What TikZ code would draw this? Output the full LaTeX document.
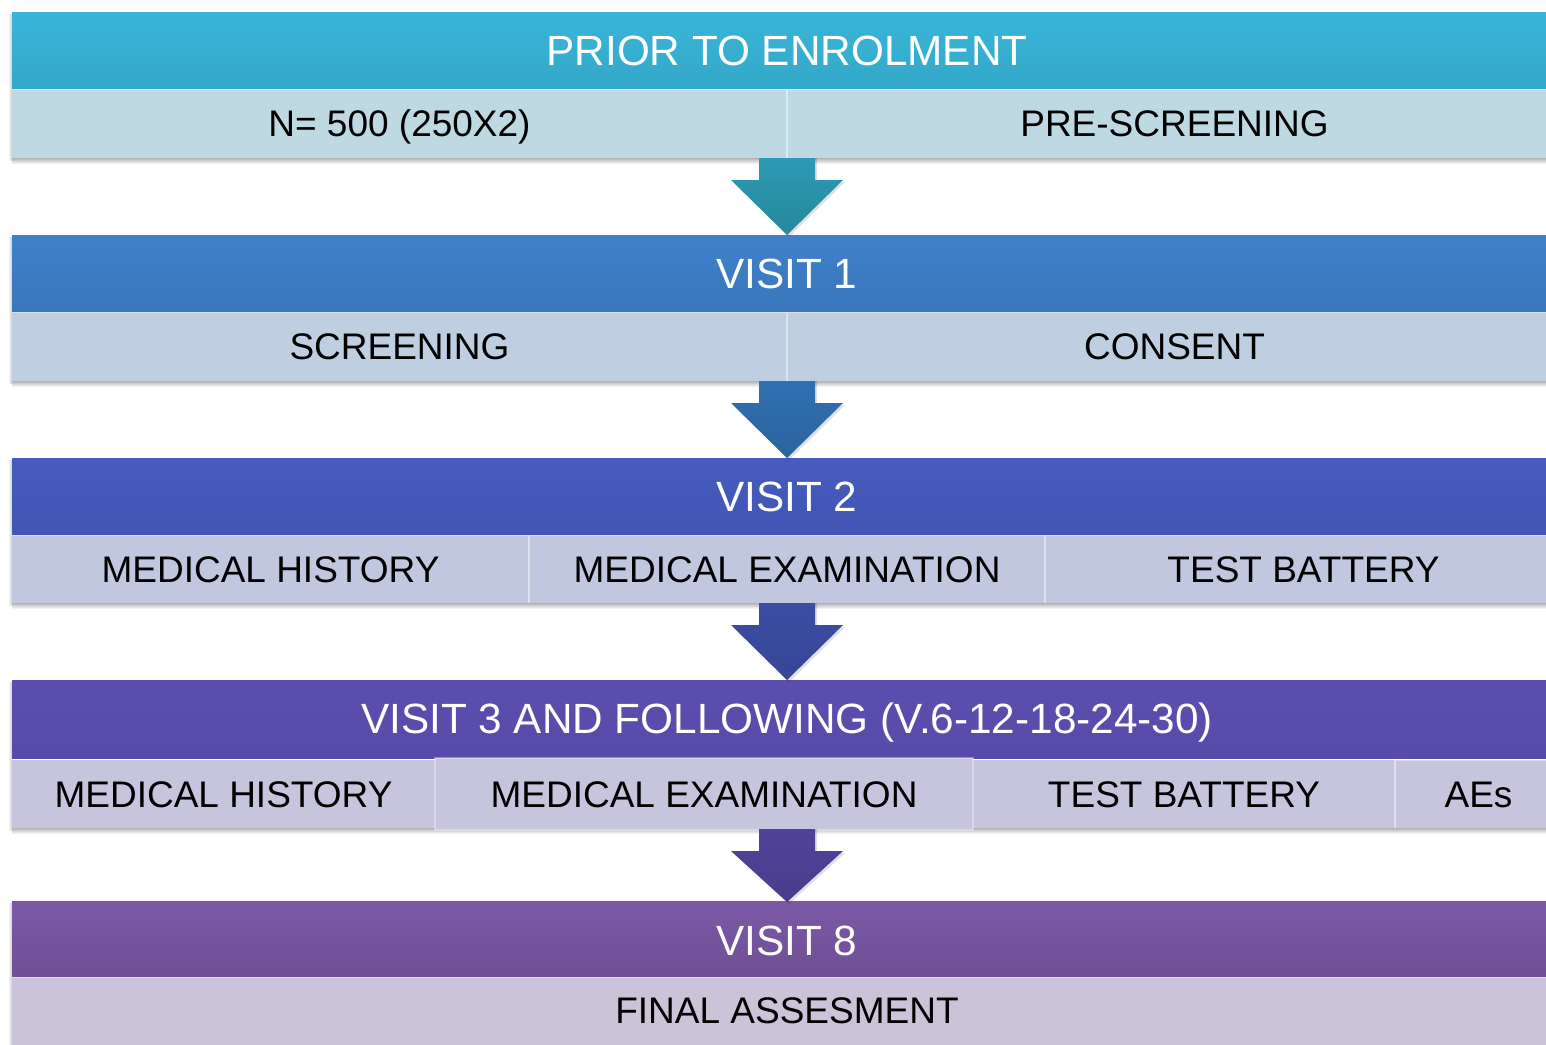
\documentclass[tikz,border=0pt]{standalone}
\usepackage{fontspec}
\setmainfont{Liberation Sans}
\definecolor{hAt}{HTML}{39B5D9}\definecolor{hAb}{HTML}{33A8C8}\definecolor{sA}{HTML}{BFD9E3}
\definecolor{aAt}{HTML}{2C9AB4}\definecolor{aAb}{HTML}{26889C}
\definecolor{hBt}{HTML}{3E81CB}\definecolor{hBb}{HTML}{3A76BB}\definecolor{sB}{HTML}{C0CEE1}
\definecolor{aBt}{HTML}{3070B2}\definecolor{aBb}{HTML}{2B63A0}
\definecolor{hCt}{HTML}{465BBD}\definecolor{hCb}{HTML}{4255B5}\definecolor{sC}{HTML}{C2C7E0}
\definecolor{aCt}{HTML}{3C4DA2}\definecolor{aCb}{HTML}{364596}
\definecolor{hDt}{HTML}{5C4EAE}\definecolor{hDb}{HTML}{584AA8}\definecolor{sD}{HTML}{C7C4DD}
\definecolor{aDt}{HTML}{504298}\definecolor{aDb}{HTML}{4A3C8C}
\definecolor{hEt}{HTML}{7B59A8}\definecolor{hEb}{HTML}{6F4F94}\definecolor{sE}{HTML}{CBC4D8}
\begin{document}
\begin{tikzpicture}[x=1pt,y=-1pt,
  hdr/.style={text=white,font=\fontsize{42.3}{50}\selectfont,inner sep=0pt,text height=30.3pt,text depth=0pt},
  cell/.style={text=black,font=\fontsize{37}{44}\selectfont,inner sep=0pt,text height=26.5pt,text depth=0pt},
  sep/.style={draw=white,draw opacity=0.45,line width=1.5pt},
  shd/.style={top color=black!30,bottom color=white,draw=none},
  lshd/.style={left color=white,right color=black!20,draw=none}]
\useasboundingbox (0,0) rectangle (1546,1044);
\clip (0,0) rectangle (1546,1044);
\fill[white] (0,0) rectangle (1546,1044);

% ---- shadows ----
\foreach \a/\b in {12/158,235/381,458/603,680/828,901/1044}{
  \shade[lshd] (8,\a+2) rectangle (12,\b+2);
}
\foreach \b in {158,381,603,828}{
  \shade[shd] (12,\b) rectangle (1562,\b+6);
}

% ---- band 1 ----
\shade[top color=hAt,bottom color=hAb] (12,12) rectangle (1562,89);
\fill[sA] (12,89) rectangle (1562,158);
\draw[sep] (787,90) -- (787,158);
\draw[white,opacity=0.4,line width=1pt] (12,89.5) -- (1562,89.5);
\node[hdr] (h1) at (787,50.5) {PRIOR TO ENROLMENT};
\node[cell] (c11) at (399.5,123.5) {N= 500 (250X2)};
\node[cell] (c12) at (1174.5,123.5) {PRE-SCREENING};

% ---- band 2 ----
\shade[top color=hBt,bottom color=hBb] (12,235) rectangle (1562,312);
\fill[sB] (12,312) rectangle (1562,381);
\draw[sep] (787,313) -- (787,381);
\draw[white,opacity=0.4,line width=1pt] (12,312.5) -- (1562,312.5);
\node[hdr] (h2) at (787,273.5) {VISIT 1};
\node[cell] (c21) at (399.5,346) {SCREENING};
\node[cell] (c22) at (1174.5,346) {CONSENT};

% ---- band 3 ----
\shade[top color=hCt,bottom color=hCb] (12,458) rectangle (1562,535);
\fill[sC] (12,535) rectangle (1562,603);
\draw[sep] (529,536) -- (529,603);
\draw[sep] (1045,536) -- (1045,603);
\draw[white,opacity=0.4,line width=1pt] (12,535.5) -- (1562,535.5);
\node[hdr] (h3) at (787,496.5) {VISIT 2};
\node[cell] (c31) at (270.5,569) {MEDICAL HISTORY};
\node[cell] (c32) at (787,569) {MEDICAL EXAMINATION};
\node[cell] (c33) at (1303.5,569) {TEST BATTERY};

% ---- band 4 ----
\shade[top color=hDt,bottom color=hDb] (12,680) rectangle (1562,758);
\fill[sD] (12,760) rectangle (1562,828);
\fill[sD] (435,758) rectangle (973,830);
\draw[white,opacity=0.35,line width=1.2pt] (435,758) rectangle (973,830);
\draw[sep] (1395,760) -- (1395,828);
\draw[white,opacity=0.35,line width=1.2pt] (1395,760) -- (1562,760);
\node[hdr] (h4) at (787,718.5) {VISIT 3 AND FOLLOWING (V.6-12-18-24-30)};
\node[cell] (c41) at (223.5,794) {MEDICAL HISTORY};
\node[cell] (c42) at (704,794) {MEDICAL EXAMINATION};
\node[cell] (c43) at (1184,794) {TEST BATTERY};
\node[cell] (c44) at (1478.5,794) {AEs};

% ---- band 5 ----
\shade[top color=hEt,bottom color=hEb] (12,901) rectangle (1562,977);
\fill[sE] (12,977) rectangle (1562,1050);
\draw[white,opacity=0.4,line width=1pt] (12,977.5) -- (1562,977.5);
\node[hdr] (h5) at (787,940) {VISIT 8};
\node[cell] (c51) at (787,1010) {FINAL ASSESMENT};

% ---- arrows ----
\foreach \s/\t/\ct/\cb in {158/235/aAt/aAb,381/458/aBt/aBb,603/680/aCt/aCb,829/902/aDt/aDb}{
  \fill[black,opacity=0.12] (761,\s) -- (817,\s) -- (817,\s+24) -- (845,\s+24) -- (789,\t+2) -- (733,\s+24) -- (761,\s+24) -- cycle;
  \shade[top color=\ct,bottom color=\cb] (759,\s) -- (815,\s) -- (815,\s+22) -- (843,\s+22) -- (787,\t) -- (731,\s+22) -- (759,\s+22) -- cycle;
}
\end{tikzpicture}
\end{document}
